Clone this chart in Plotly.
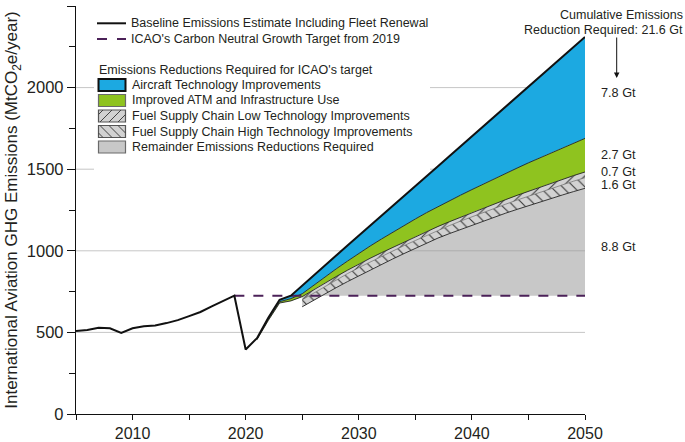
import plotly.graph_objects as go

# ---------------- data ----------------
years = list(range(2005, 2051))
baseline = [508, 515, 528, 525, 497, 525, 538, 542, 557, 575,
            600, 625, 660, 690, 725, 395, 465, 590, 700, 725,
            788, 849, 910, 971, 1032, 1092, 1153, 1214, 1275, 1336,
            1396, 1457, 1518, 1579, 1640, 1700, 1761, 1822, 1883, 1944,
            2005, 2065, 2126, 2187, 2248, 2310]

red_years = list(range(2021, 2051))
baseline_red = baseline[16:]          # baseline values for 2021-2050
aircraft_bottom = [460, 580, 688, 707, 737, 789, 840, 889, 937, 985,
                   1029, 1072, 1114, 1155, 1195, 1234, 1271, 1306, 1341, 1375,
                   1409, 1442, 1475, 1507, 1539, 1570, 1601, 1632, 1661, 1689]
atm_bottom = [455, 573, 680, 693, 719, 761, 802, 842, 881, 919,
              954, 988, 1021, 1054, 1086, 1118, 1149, 1178, 1206, 1234,
              1261, 1288, 1314, 1340, 1365, 1390, 1414, 1438, 1461, 1483]

fuel_years = list(range(2025, 2051))
atm_bottom_fuel = atm_bottom[4:]      # 2025-2050
lowtech_bottom = [700, 741, 782, 821, 860, 897, 932, 966, 999, 1032,
                  1063, 1095, 1126, 1154, 1182, 1209, 1235, 1261, 1286, 1311,
                  1335, 1359, 1382, 1405, 1427, 1448]
hightech_bottom = [657, 697, 736, 774, 811, 847, 882, 916, 950, 983,
                   1015, 1047, 1078, 1105, 1131, 1157, 1182, 1207, 1231, 1254,
                   1277, 1299, 1321, 1342, 1363, 1383]

cng_years = [2019, 2050]
cng_level = [725, 725]

cumulative_labels = ["7.8 Gt", "2.7 Gt", "0.7 Gt", "1.6 Gt", "8.8 Gt"]
legend_lines = ["Baseline Emissions Estimate Including Fleet Renewal",
                "ICAO's Carbon Neutral Growth Target from 2019"]
legend_group_title = "Emissions Reductions Required for ICAO's target"
legend_areas = ["Aircraft Technology Improvements",
                "Improved ATM and Infrastructure Use",
                "Fuel Supply Chain Low Technology Improvements",
                "Fuel Supply Chain High Technology Improvements",
                "Remainder Emissions Reductions Required"]

# ---------------- styles ----------------
FONT = "Liberation Sans, Arial, Helvetica, sans-serif"
TXT = "#231f20"
BLUE = "#1ca9e1"
GREEN = "#8fc31f"
GRAY = "rgba(150,150,150,0.52)"
HATCH_BG = "#d2d2d2"
HATCH_FG = "#3a3a3a"
PURPLE = "#4b2158"
EDGE = "#222222"

# plot-area pixel geometry
L, R, T, B = 76, 585, 6, 414


def px(x):
    return (x - L) / (R - L)


def py(y):
    return (B - y) / (B - T)


def band(x, lower, upper):
    return list(x) + list(x)[::-1], list(upper) + list(lower)[::-1]


fig = go.Figure()

# remainder (gray) between CNG level and high-tech bottom
gx, gy = band(fuel_years, [cng_level[0]] * len(fuel_years), hightech_bottom)
fig.add_trace(go.Scatter(x=gx, y=gy, fill="toself", fillcolor=GRAY,
                         line=dict(width=0), mode="lines", hoverinfo="skip"))
# high-tech hatch
hx, hy = band(fuel_years, hightech_bottom, lowtech_bottom)
fig.add_trace(go.Scatter(x=hx, y=hy, fill="toself", mode="lines",
                         line=dict(width=0), fillcolor=HATCH_BG,
                         fillpattern=dict(shape="\\", bgcolor=HATCH_BG, fgcolor=HATCH_FG,
                                          size=8, solidity=0.14),
                         hoverinfo="skip"))
# low-tech hatch
lx, ly = band(fuel_years, lowtech_bottom, atm_bottom_fuel)
fig.add_trace(go.Scatter(x=lx, y=ly, fill="toself", mode="lines",
                         line=dict(width=0), fillcolor=HATCH_BG,
                         fillpattern=dict(shape="/", bgcolor=HATCH_BG, fgcolor=HATCH_FG,
                                          size=8, solidity=0.14),
                         hoverinfo="skip"))
# ATM (green)
ax_, ay_ = band(red_years, atm_bottom, aircraft_bottom)
fig.add_trace(go.Scatter(x=ax_, y=ay_, fill="toself", fillcolor=GREEN, mode="lines",
                         line=dict(width=0), hoverinfo="skip"))
# aircraft technology (blue)
bx, by = band(red_years, aircraft_bottom, baseline_red)
fig.add_trace(go.Scatter(x=bx, y=by, fill="toself", fillcolor=BLUE, mode="lines",
                         line=dict(width=0), hoverinfo="skip"))

# thin boundary lines
for xs, ys, w, c in [(fuel_years, hightech_bottom, 0.9, EDGE),
                     (fuel_years, lowtech_bottom, 0.6, "#555555"),
                     (red_years, atm_bottom, 0.9, EDGE),
                     (red_years, aircraft_bottom, 0.9, EDGE)]:
    fig.add_trace(go.Scatter(x=xs, y=ys, mode="lines", line=dict(color=c, width=w),
                             hoverinfo="skip"))

# CNG target dashed
fig.add_trace(go.Scatter(x=cng_years, y=cng_level, mode="lines",
                         line=dict(color=PURPLE, width=2, dash="10px,9px")))
# baseline
fig.add_trace(go.Scatter(x=years, y=baseline, mode="lines",
                         line=dict(color="#111111", width=2)))

shapes = []
# gridlines
for v in [500, 1000, 1500, 2000]:
    shapes.append(dict(type="line", xref="paper", yref="y", x0=0, x1=1, y0=v, y1=v,
                       line=dict(color="#c6c6c6", width=1), layer="below"))

# legend background
shapes.append(dict(type="rect", xref="paper", yref="paper", x0=px(94), x1=px(430),
                   y0=py(172), y1=py(0), fillcolor="white", line=dict(width=0),
                   layer="above"))

annotations = []
# legend line items
shapes.append(dict(type="line", xref="paper", yref="paper", x0=px(97), x1=px(126),
                   y0=py(23.3), y1=py(23.3), line=dict(color="#111111", width=2)))
shapes.append(dict(type="line", xref="paper", yref="paper", x0=px(97), x1=px(107),
                   y0=py(39), y1=py(39), line=dict(color=PURPLE, width=2)))
shapes.append(dict(type="line", xref="paper", yref="paper", x0=px(117), x1=px(126),
                   y0=py(39), y1=py(39), line=dict(color=PURPLE, width=2)))
for txt, yy in zip(legend_lines, [23.3, 39]):
    annotations.append(dict(xref="paper", yref="paper", x=px(129), y=py(yy), text=txt,
                            showarrow=False, xanchor="left", yanchor="middle",
                            font=dict(size=12.5, color=TXT, family=FONT)))
annotations.append(dict(xref="paper", yref="paper", x=px(97), y=py(70),
                        text=legend_group_title, showarrow=False, xanchor="left",
                        yanchor="middle", font=dict(size=12.5, color=TXT, family=FONT)))


def hatch_path(x0, y0, x1, y1, spacing, direction):
    segs = []
    if direction == "/":
        c = x0 + y0 + spacing / 2
        while c < x1 + y1:
            lo = max(x0, c - y1)
            hi = min(x1, c - y0)
            if hi > lo:
                segs.append("M{},{} L{},{}".format(px(lo), py(c - lo), px(hi), py(c - hi)))
            c += spacing
    else:
        c = x0 - y1 + spacing / 2
        while c < x1 - y0:
            lo = max(x0, c + y0)
            hi = min(x1, c + y1)
            if hi > lo:
                segs.append("M{},{} L{},{}".format(px(lo), py(lo - c), px(hi), py(hi - c)))
            c += spacing
    return " ".join(segs)


box_x0, box_x1 = 98.5, 125.5
box_centers = [85, 100.5, 116, 131.5, 147]
box_fills = [BLUE, GREEN, HATCH_BG, HATCH_BG, "#c8c8c8"]
box_lines = [dict(color="#111111", width=2), dict(color="#6a6a6a", width=1.2),
             dict(color="#555555", width=1.2), dict(color="#555555", width=1.2),
             dict(color="#6a6a6a", width=1.2)]
for i, (cy, fc, ln, txt) in enumerate(zip(box_centers, box_fills, box_lines, legend_areas)):
    y0, y1 = cy - 6, cy + 6
    shapes.append(dict(type="rect", xref="paper", yref="paper", x0=px(box_x0), x1=px(box_x1),
                       y0=py(y1), y1=py(y0), fillcolor=fc, line=ln, layer="above"))
    if i in (2, 3):
        path = hatch_path(box_x0, y0, box_x1, y1, 9, "/" if i == 2 else "\\")
        shapes.append(dict(type="path", xref="paper", yref="paper", path=path,
                           line=dict(color="#444444", width=1), layer="above"))
    annotations.append(dict(xref="paper", yref="paper", x=px(129.5), y=py(cy), text=txt,
                            showarrow=False, xanchor="left", yanchor="middle",
                            font=dict(size=12.5, color=TXT, family=FONT)))

# right-side annotations
annotations.append(dict(xref="paper", yref="paper", x=px(684.5), y=py(15),
                        text="Cumulative Emissions", showarrow=False, xanchor="right",
                        yanchor="middle", font=dict(size=12.5, color=TXT, family=FONT)))
annotations.append(dict(xref="paper", yref="paper", x=px(684.5), y=py(29.5),
                        text="Reduction Required: 21.6 Gt", showarrow=False, xanchor="right",
                        yanchor="middle", font=dict(size=12.5, color=TXT, family=FONT)))
annotations.append(dict(xref="paper", yref="paper", x=px(616.7), y=py(78), text="",
                        showarrow=True, ax=0, ay=-42, arrowhead=2, arrowsize=1.1,
                        arrowwidth=1, arrowcolor="#111111", standoff=0, startstandoff=0))
for txt, yy in zip(cumulative_labels, [93.3, 154.5, 172.0, 185.0, 246.7]):
    annotations.append(dict(xref="paper", yref="paper", x=px(598.5), y=py(yy), text=txt,
                            showarrow=False, xanchor="left", yanchor="middle",
                            font=dict(size=12.7, color=TXT, family=FONT)))

fig.update_layout(
    template="none",
    width=685, height=442,
    margin=dict(l=L, r=685 - R, t=T, b=442 - B, autoexpand=False),
    paper_bgcolor="white", plot_bgcolor="white",
    showlegend=False,
    font=dict(family=FONT, color=TXT),
    shapes=shapes, annotations=annotations,
    xaxis=dict(range=[2005, 2050], tick0=2000, dtick=10, ticks="outside", ticklen=5,
               tickwidth=1, tickcolor="#111", showline=True, linecolor="#111", linewidth=1.3,
               showgrid=False, zeroline=False, automargin=False,
               tickfont=dict(size=16, color=TXT, family=FONT),
               minor=dict(dtick=5, tick0=2000, ticks="outside", ticklen=5, tickwidth=1,
                          tickcolor="#111", showgrid=False)),
    yaxis=dict(range=[0, 2500], dtick=500, ticks="outside", ticklen=8, tickwidth=1,
               tickcolor="#111", showline=True, linecolor="#111", linewidth=1.3,
               showgrid=False, zeroline=False, automargin=False,
               tickfont=dict(size=16.5, color=TXT, family=FONT),
               minor=dict(dtick=250, ticks="outside", ticklen=6, tickwidth=1,
                          tickcolor="#111", showgrid=False),
               title=dict(text="International Aviation GHG Emissions (MtCO<sub>2</sub>e/year)",
                          font=dict(size=17, color=TXT, family=FONT), standoff=4)),
)

fig.write_html("out.html", config={"displayModeBar": False},
               post_script="document.body.style.margin='0';document.body.style.padding='0';document.body.style.overflow='hidden';")
